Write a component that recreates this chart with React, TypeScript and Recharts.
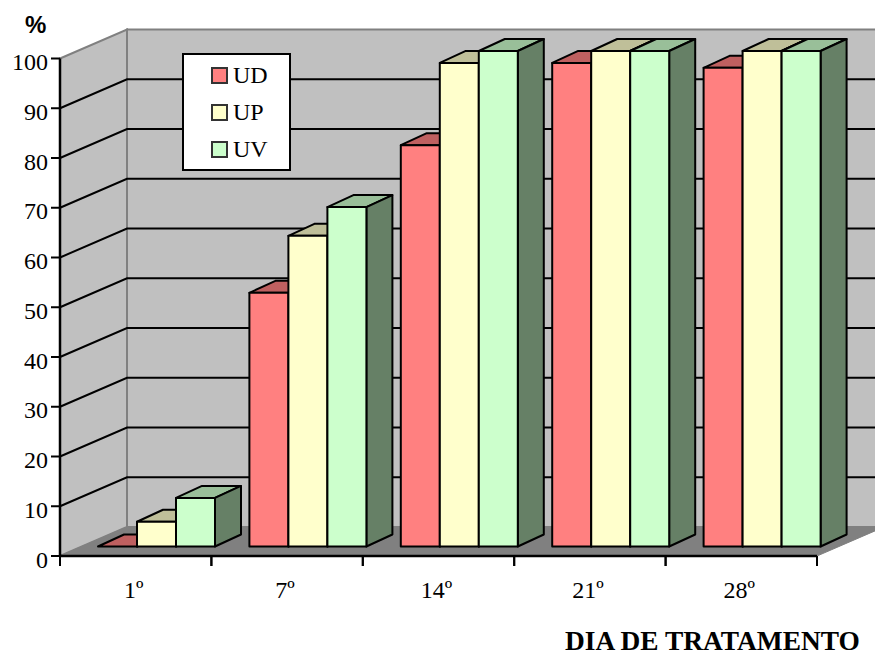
import { BarChart, Bar, XAxis, YAxis, Legend, usePlotArea } from 'recharts';

const days = ['1º', '7º', '14º', '21º', '28º'];
const ud = [0, 51.2, 81, 97.6, 96.6];
const up = [5, 62.7, 97.6, 100, 100];
const uv = [9.8, 68.5, 100, 100, 100];
const yTicks = [0, 10, 20, 30, 40, 50, 60, 70, 80, 90, 100];

const chartData = days.map((day, i) => ({ day, UD: ud[i], UP: up[i], UV: uv[i] }));

const SERIF = '"Liberation Serif", "Times New Roman", serif';

// fake 3d offsets, taken from the old excel look
const WALL_DX = 67;
const WALL_DY = -29;
const BAR_DX = 21;
const BAR_DY = -9.5;
const DEPTH_DX = 26;
const DEPTH_DY = -12;

const shade = (hex: string, k: number) => {
  const n = parseInt(hex.slice(1), 16);
  const c = [(n >> 16) & 255, (n >> 8) & 255, n & 255].map(v => Math.round(v * k));
  return `rgb(${c[0]},${c[1]},${c[2]})`;
};

const Walls = () => {
  const area = usePlotArea();
  if (!area) return null;
  const { x, y, width, height } = area;
  const bottom = y + height;
  const right = x + width;
  const yOf = (t: number) => bottom - (height * t) / 100;
  return (
    <g>
      <polygon
        points={`${x},${y} ${x + WALL_DX},${y + WALL_DY} ${x + WALL_DX},${bottom + WALL_DY} ${x},${bottom}`}
        fill="#c0c0c0"
        stroke="#808080"
        strokeWidth={2}
      />
      <rect
        x={x + WALL_DX}
        y={y + WALL_DY}
        width={width}
        height={height}
        fill="#c0c0c0"
        stroke="#808080"
        strokeWidth={2}
      />
      <polygon
        points={`${x},${bottom} ${x + WALL_DX},${bottom + WALL_DY} ${right + WALL_DX},${bottom + WALL_DY} ${right},${bottom}`}
        fill="#808080"
        stroke="#808080"
      />
      {yTicks.slice(1, -1).map(t => (
        <polyline
          key={t}
          points={`${x},${yOf(t)} ${x + WALL_DX},${yOf(t) + WALL_DY} ${right + WALL_DX},${yOf(t) + WALL_DY}`}
          fill="none"
          stroke="#000"
          strokeWidth={2}
        />
      ))}
    </g>
  );
};

const Bar3D = (props: any) => {
  const { x, y, width, height, fill } = props;
  const left = x + BAR_DX;
  const right = left + width;
  const bottom = y + height + BAR_DY;
  const top = bottom - height * 0.996;
  const style = { stroke: '#000', strokeWidth: 2, strokeLinejoin: 'round' as const };
  return (
    <g>
      <polygon
        points={`${left},${top} ${left + DEPTH_DX},${top + DEPTH_DY} ${right + DEPTH_DX},${top + DEPTH_DY} ${right},${top}`}
        fill={shade(fill, 0.75)}
        {...style}
      />
      <polygon
        points={`${right},${top} ${right + DEPTH_DX},${top + DEPTH_DY} ${right + DEPTH_DX},${bottom + DEPTH_DY} ${right},${bottom}`}
        fill={shade(fill, 0.5)}
        {...style}
      />
      <rect x={left} y={top} width={width} height={bottom - top} fill={fill} {...style} />
    </g>
  );
};

const DayTick = (props: any) => {
  const { x, y, payload, band } = props;
  return (
    <g>
      <line x1={x - band / 2} y1={y - 8} x2={x - band / 2} y2={y + 2} stroke="#000" strokeWidth={2} />
      <line x1={x + band / 2} y1={y - 8} x2={x + band / 2} y2={y + 2} stroke="#000" strokeWidth={2} />
      <text x={x - 2} y={y + 34} textAnchor="middle" fontFamily={SERIF} fontSize={24} fill="#000">
        {payload.value}
      </text>
    </g>
  );
};

const LegendBox = ({ payload }: any) => (
  <div
    style={{
      boxSizing: 'border-box',
      width: 109,
      height: 118,
      background: '#fff',
      border: '2px solid #000',
      fontFamily: SERIF,
      fontSize: 24,
      paddingTop: 2,
    }}
  >
    {payload.map((item: any) => (
      <div key={item.value} style={{ display: 'flex', alignItems: 'center', height: 37, paddingLeft: 27 }}>
        <span
          style={{
            boxSizing: 'border-box',
            width: 17,
            height: 17,
            marginRight: 5,
            background: item.color,
            border: '2px solid #333',
          }}
        />
        {item.value}
      </div>
    ))}
  </div>
);

export default function App() {
  const plotWidth = 757;
  return (
    <div style={{ position: 'absolute', left: 0, top: 0, width: 875, height: 656, overflow: 'hidden', background: '#fff' }}>
      <BarChart
        width={875}
        height={656}
        data={chartData}
        margin={{ top: 58.5, right: 58, left: 0, bottom: 50 }}
        barCategoryGap={17}
        barGap={0}
      >
        <Walls />
        <XAxis
          dataKey="day"
          height={50}
          axisLine={{ stroke: '#000', strokeWidth: 2.5 }}
          tickLine={false}
          interval={0}
          tick={<DayTick band={plotWidth / days.length} />}
        />
        <YAxis
          width={60}
          domain={[0, 100]}
          ticks={yTicks}
          interval={0}
          axisLine={{ stroke: '#000', strokeWidth: 2.5 }}
          tickLine={{ stroke: '#000', strokeWidth: 2 }}
          tickSize={9}
          tickMargin={3}
          tick={{ fill: '#000', fontSize: 24, fontFamily: SERIF, dy: 3 }}
        />
        <Legend
          layout="vertical"
          align="center"
          verticalAlign="middle"
          content={<LegendBox />}
          wrapperStyle={{ left: 182, top: 53, width: 109, height: 118 }}
        />
        <Bar dataKey="UD" fill="#ff8080" shape={<Bar3D />} isAnimationActive={false} />
        <Bar dataKey="UP" fill="#ffffcc" shape={<Bar3D />} isAnimationActive={false} />
        <Bar dataKey="UV" fill="#ccffcc" shape={<Bar3D />} isAnimationActive={false} />
        <text x={25} y={33} fontFamily='"Liberation Sans", Arial, sans-serif' fontWeight="bold" fontSize={24} fill="#000">
          %
        </text>
        <text x={565} y={649.5} fontFamily={SERIF} fontWeight="bold" fontSize={27.4} fill="#000">
          DIA DE TRATAMENTO
        </text>
      </BarChart>
    </div>
  );
}
